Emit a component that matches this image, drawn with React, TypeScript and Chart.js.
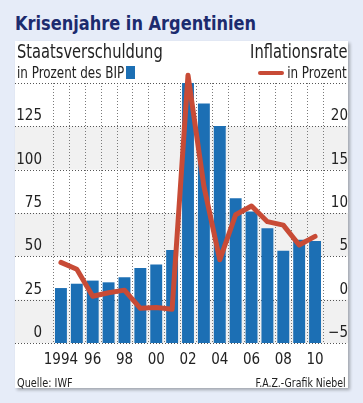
import React, { useEffect, useRef } from "react";
import { Chart, registerables } from "chart.js";

Chart.register(...registerables);

const years = ["1994","1995","1996","1997","1998","1999","2000","2001","2002","2003","2004","2005","2006","2007","2008","2009","2010"];
const xTickLabels = ["1994","96","98","00","02","04","06","08","10"];
const debtPct = [31.7, 34.2, 36, 35, 38, 43.2, 45.3, 53.7, 150, 138.2, 125.2, 83.5, 75.8, 66.2, 53.2, 59.5, 58.9];
const inflationPct = [4.3, 3.5, 0.4, 0.8, 1.1, -1.0, -0.9, -1.1, 25.9, 13.1, 4.6, 9.8, 10.8, 9.0, 8.6, 6.3, 7.3];
const leftTicks = [0, 25, 50, 75, 100, 125, 150];

const FONT = "'DejaVu Sans Condensed', 'Liberation Sans Narrow', 'DejaVu Sans', sans-serif";
const BAR_COLOR = "#1c6fb4";
const LINE_COLOR = "#c84b36";
const BAND_COLOR = "#f1f1f1";

const panelPlugin = {
  id: "panelDeco",
  beforeDraw(chart: any) {
    const { ctx, width } = chart;
    const y = chart.scales.y;
    ctx.save();
    ctx.fillStyle = BAND_COLOR;
    for (let i = 0; i < leftTicks.length - 1; i += 2) {
      const top = y.getPixelForValue(leftTicks[i + 1]);
      const bottom = y.getPixelForValue(leftTicks[i]);
      ctx.fillRect(0, top, width, bottom - top);
    }
    ctx.restore();
  },
  beforeDatasetsDraw(chart: any) {
    const { ctx, width, chartArea } = chart;
    const y = chart.scales.y;
    const x = chart.scales.x;
    ctx.save();
    ctx.lineWidth = 1;
    ctx.setLineDash([1, 2]);
    // vertical dotted lines at category boundaries
    ctx.strokeStyle = "#7a7a7a";
    const n = years.length;
    const step = (x.getPixelForValue(n - 1) - x.getPixelForValue(0)) / (n - 1);
    for (let i = 0; i <= n; i++) {
      const px = Math.round(x.getPixelForValue(0) - step / 2 + i * step) + 0.5;
      ctx.beginPath();
      ctx.moveTo(px, chartArea.top);
      ctx.lineTo(px, chartArea.bottom);
      ctx.stroke();
    }
    // horizontal dotted lines across panel
    ctx.strokeStyle = "#555";
    leftTicks.forEach((v) => {
      const py = Math.round(y.getPixelForValue(v)) + 0.5;
      ctx.beginPath();
      ctx.moveTo(0, py);
      ctx.lineTo(width, py);
      ctx.stroke();
    });
    ctx.restore();
  },
};

function ChartPanel() {
  const ref = useRef<HTMLCanvasElement>(null);
  useEffect(() => {
    if (!ref.current) return;
    const chart = new Chart(ref.current, {
      type: "bar",
      data: {
        labels: years,
        datasets: [
          {
            type: "line",
            label: "Inflationsrate",
            data: inflationPct,
            yAxisID: "y1",
            borderColor: LINE_COLOR,
            borderWidth: 5,
            pointRadius: 0,
            tension: 0,
            clip: false,
            order: 0,
            borderJoinStyle: "round",
            borderCapStyle: "round",
          } as any,
          {
            type: "bar",
            label: "Staatsverschuldung",
            data: debtPct,
            yAxisID: "y",
            backgroundColor: BAR_COLOR,
            barPercentage: 0.75,
            categoryPercentage: 1,
            order: 1,
          },
        ],
      },
      options: {
        animation: false,
        responsive: false,
        maintainAspectRatio: false,
        layout: { padding: { top: 42, left: 0, right: 0, bottom: 0 } },
        plugins: { legend: { display: false }, tooltip: { enabled: false } },
        scales: {
          x: {
            offset: true,
            grid: { display: false, drawTicks: false },
            border: { display: false },
            ticks: {
              autoSkip: false,
              maxRotation: 0,
              padding: 8,
              color: "#222",
              font: { family: FONT, size: 15 },
              callback: (_v: any, i: number) => (i % 2 === 0 ? xTickLabels[i / 2] : ""),
            },
            afterFit: (s: any) => { s.height = 45; },
          },
          y: {
            position: "left",
            min: 0,
            max: 150,
            grid: { display: false, drawTicks: false },
            border: { display: false },
            ticks: {
              stepSize: 25,
              padding: 11,
              labelOffset: -10,
              color: "#222",
              font: { family: FONT, size: 15 },
              callback: (v: any) => (v === 150 ? "" : String(v)),
            },
            afterFit: (s: any) => { s.width = 38; },
          },
          y1: {
            position: "right",
            min: -5,
            max: 25,
            grid: { display: false, drawTicks: false },
            border: { display: false },
            ticks: {
              stepSize: 5,
              padding: 3,
              labelOffset: -10,
              crossAlign: "far",
              color: "#222",
              font: { family: FONT, size: 15 },
              callback: (v: any) => (v === 25 ? "" : v < 0 ? "\u2212" + Math.abs(v) : String(v)),
            },
            afterFit: (s: any) => { s.width = 25; },
          },
        },
      } as any,
      plugins: [panelPlugin],
    });
    return () => chart.destroy();
  }, []);
  return <canvas ref={ref} width={333} height={347} style={{ position: "absolute", left: 0, top: 0, width: 333, height: 347 }} />;
}

const txt: React.CSSProperties = { position: "absolute", fontFamily: FONT, color: "#222", whiteSpace: "nowrap", lineHeight: 1 };
const sl = (k: number): React.CSSProperties => ({ transform: `scaleX(${k})`, transformOrigin: "left top" });
const sr = (k: number): React.CSSProperties => ({ transform: `scaleX(${k})`, transformOrigin: "right top" });

export default function App() {
  return (
    <div style={{ position: "absolute", left: 0, top: 0, width: 363, height: 403, background: "#e6ecf8", overflow: "hidden" }}>
      <div style={{ ...txt, ...sl(0.9), left: 15, top: 13, fontSize: 20, fontWeight: 700, color: "#1c2b6e" }}>Krisenjahre in Argentinien</div>
      <div style={{ position: "absolute", left: 15, top: 41, width: 333, height: 347, background: "#fff", boxShadow: "2px 2px 3px rgba(0,0,0,0.3)" }}>
        <ChartPanel />
        <div style={{ ...txt, ...sl(0.815), left: 2, top: 0, fontSize: 20 }}>Staatsverschuldung</div>
        <div style={{ ...txt, ...sr(0.815), right: 1, top: 0, fontSize: 20 }}>Inflationsrate</div>
        <div style={{ ...txt, ...sl(0.83), left: 2, top: 24, fontSize: 16 }}>in Prozent des BIP</div>
        <div style={{ position: "absolute", left: 111, top: 25, width: 9, height: 13, background: BAR_COLOR }} />
        <div style={{ ...txt, ...sr(0.83), right: 1, top: 24, fontSize: 16 }}>in Prozent</div>
        <div style={{ position: "absolute", left: 243, top: 30, width: 26, height: 4, borderRadius: 2, background: LINE_COLOR }} />
        <div style={{ ...txt, ...sl(0.9), left: 2, top: 336, fontSize: 12 }}>Quelle: IWF</div>
        <div style={{ ...txt, ...sr(0.87), right: 2, top: 336, fontSize: 12 }}>F.A.Z.-Grafik Niebel</div>
      </div>
    </div>
  );
}
